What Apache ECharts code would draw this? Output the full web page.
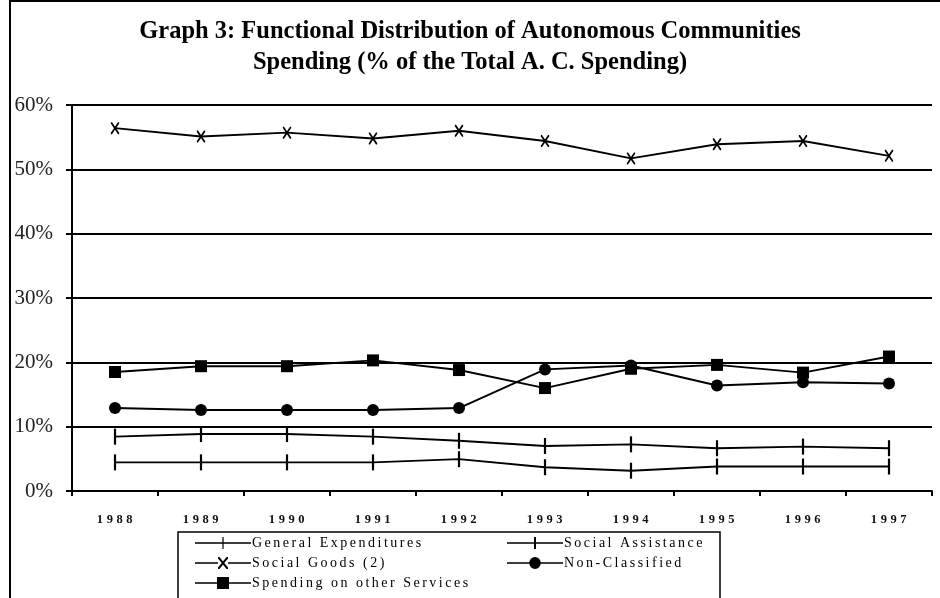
<!DOCTYPE html>
<html>
<head>
<meta charset="utf-8">
<script src="https://cdn.jsdelivr.net/npm/echarts@6/dist/echarts.min.js"></script>
<style>html,body{margin:0;padding:0;background:#fff}#c{width:940px;height:598px}</style>
</head>
<body>
<div id="c"></div>
<script>
var years = ['1988','1989','1990','1991','1992','1993','1994','1995','1996','1997'];
var generalExpenditures = [8.45, 8.85, 8.85, 8.45, 7.8, 7.0, 7.25, 6.65, 6.9, 6.65];
var socialAssistance = [4.45, 4.45, 4.45, 4.45, 4.95, 3.7, 3.15, 3.8, 3.8, 3.8];
var socialGoods = [56.4, 55.1, 55.7, 54.8, 56.0, 54.4, 51.7, 53.9, 54.4, 52.1];
var nonClassified = [12.9, 12.6, 12.6, 12.6, 12.9, 18.9, 19.5, 16.4, 16.9, 16.7];
var otherServices = [18.5, 19.4, 19.4, 20.3, 18.8, 16.0, 19.0, 19.6, 18.4, 20.9];
var yTicks = [0, 10, 20, 30, 40, 50, 60];
var names = ['General Expenditures', 'Social Assistance', 'Social Goods (2)', 'Non-Classified', 'Spending on other Services'];

// letter-spaced text rendering (the reference uses tracked type for legend and year labels)
(function () {
  var P = CanvasRenderingContext2D.prototype;
  if (!('letterSpacing' in P)) return;
  var orig = P.fillText;
  P.fillText = function (t, x, y, mw) {
    var f = this.font || '';
    var want = '0px';
    if (f.indexOf('trackA') >= 0) want = '2.5px';
    else if (f.indexOf('trackB') >= 0) want = '3.6px';
    if (this.letterSpacing !== want) {
      this.letterSpacing = want;
      this.font = f;
    }
    return (mw === undefined) ? orig.call(this, t, x, y) : orig.call(this, t, x, y, mw);
  };
})();

var XS = 'path://M0,0L1.4,0L10,10.6L10,12L8.6,12L0,1.4Z M8.6,0L10,0L10,1.4L1.4,12L0,12L0,10.6Z';

// legend icons: line + marker, box 56 x 12
var ICON_GE = 'path://M0,5.3h56v1.4h-56z M27.4,0h1.2v12h-1.2z';
var ICON_SA = 'path://M0,5.3h56v1.4h-56z M27,0h2v12h-2z';
var ICON_SG = 'path://M0,5.3h23v1.4h-23z M33,5.3h23v1.4h-23z M23,0L24.4,0L33,10.6L33,12L31.6,12L23,1.4Z M31.6,0L33,0L33,1.4L24.4,12L23,12L23,10.6Z';
var ICON_NC = 'path://M0,5.3h23v1.4h-23z M33,5.3h23v1.4h-23z M22.2,6a5.8,6 0 1,1 11.6,0a5.8,6 0 1,1 -11.6,0z';
var ICON_OS = 'path://M0,5.3h56v1.4h-56z M22,0h12v12h-12z';

function mk(name, data, symbol, size, keep) {
  return {
    name: name, type: 'line', data: data,
    symbol: symbol, symbolSize: size, symbolKeepAspect: !!keep,
    lineStyle: {color: '#000', width: 1.9},
    itemStyle: {color: '#000', opacity: 1, borderWidth: 0},
    emphasis: {disabled: true},
    animation: false, z: 3
  };
}

var legendText = {fontFamily: '"Liberation Serif", trackA', fontSize: 14, color: '#000', padding: [0, 0, 0, -4]};

var chart = echarts.init(document.getElementById('c'));
chart.setOption({
  backgroundColor: '#fff',
  animation: false,
  title: {
    text: 'Graph 3: Functional Distribution of Autonomous Communities\nSpending (% of the Total A. C. Spending)',
    left: 'center', top: 11,
    textStyle: {fontFamily: 'Liberation Serif', fontWeight: 'bold', fontSize: 24.5, lineHeight: 31, color: '#000'}
  },
  grid: {left: 72, right: 8, top: 105, bottom: 107},
  xAxis: {
    type: 'category', data: years, boundaryGap: true,
    axisLine: {lineStyle: {color: '#000', width: 2}},
    axisTick: {show: true, length: 5, lineStyle: {color: '#000', width: 2}},
    axisLabel: {margin: 22, fontFamily: '"Liberation Serif", trackB', fontSize: 12.5, fontWeight: 'bold', color: '#111', padding: [0, 0, 0, 3]}
  },
  yAxis: {
    type: 'value', min: yTicks[0], max: yTicks[yTicks.length - 1], interval: 10,
    axisLine: {show: true, lineStyle: {color: '#000', width: 2}},
    axisTick: {show: true, length: 6, lineStyle: {color: '#000', width: 2}},
    axisLabel: {formatter: '{value}%', margin: 19, fontFamily: 'Liberation Serif', fontSize: 21, color: '#222'},
    splitLine: {lineStyle: {color: '#000', width: 2}}
  },
  legend: [
    {data: [{name: names[0], icon: ICON_GE}, {name: names[2], icon: ICON_SG}, {name: names[4], icon: ICON_OS}],
     orient: 'vertical', left: 190, top: 531, itemWidth: 56, itemHeight: 12, itemGap: 6,
     selectedMode: false, textStyle: legendText},
    {data: [{name: names[1], icon: ICON_SA}, {name: names[3], icon: ICON_NC}],
     orient: 'vertical', left: 502, top: 531, itemWidth: 56, itemHeight: 12, itemGap: 6,
     selectedMode: false, textStyle: legendText}
  ],
  graphic: [
    {type: 'rect', shape: {x: 10, y: 1, width: 940, height: 610}, style: {fill: 'none', stroke: '#000', lineWidth: 2}, silent: true},
    {type: 'rect', shape: {x: 178, y: 532, width: 542, height: 80}, style: {fill: 'none', stroke: '#000', lineWidth: 1.5}, silent: true}
  ],
  series: [
    mk(names[0], generalExpenditures, 'rect', [2.2, 16]),
    mk(names[1], socialAssistance, 'rect', [2.2, 16]),
    mk(names[2], socialGoods, XS, [10, 12], true),
    mk(names[3], nonClassified, 'circle', 12),
    mk(names[4], otherServices, 'rect', 12)
  ]
});
</script>
</body>
</html>
